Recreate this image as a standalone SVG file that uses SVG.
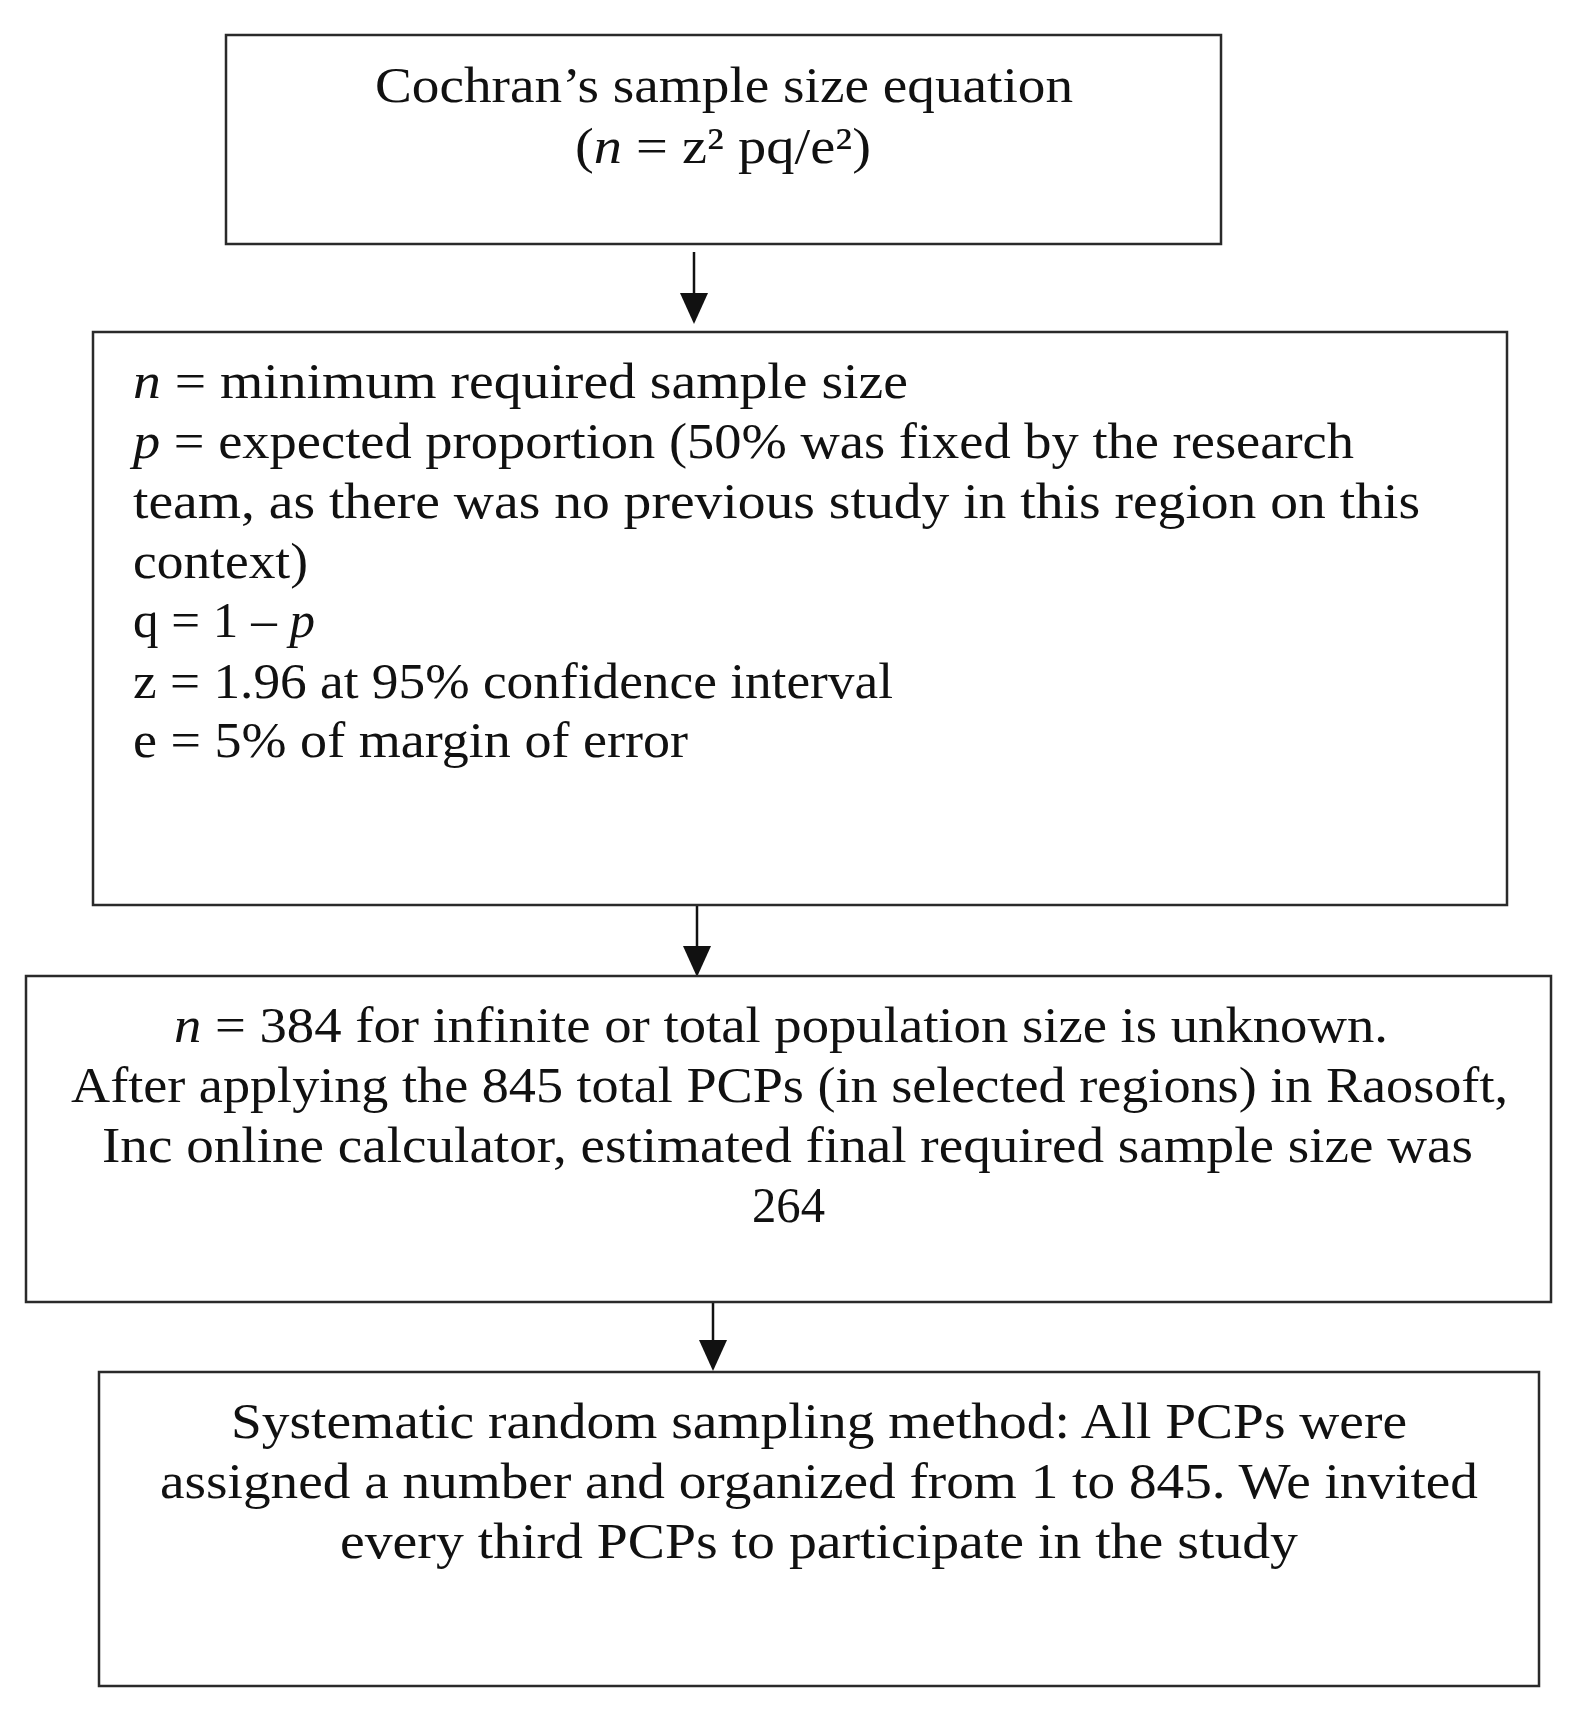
<svg xmlns="http://www.w3.org/2000/svg" width="1573" height="1713" viewBox="0 0 1573 1713">
<style>
.box{fill:#fff;stroke:#2a2a2a;stroke-width:2.5}
.t{font-family:"Liberation Serif","Times New Roman",serif;font-size:50px;fill:#111}
.i{font-style:italic}
.conn{stroke:#111;stroke-width:2.5;fill:none}
</style>
<defs>
<marker id="ah" markerUnits="userSpaceOnUse" markerWidth="31" markerHeight="28" viewBox="0 0 31 28" refX="11" refY="14" orient="auto">
<path d="M0,0 L31,14 L0,28 Z" fill="#111"/>
</marker>
</defs>
<rect width="1573" height="1713" fill="#fff"/>
<g id="connectors">
<path class="conn" d="M694,252 L694,304" marker-end="url(#ah)"/>
<path class="conn" d="M697,905 L697,957" marker-end="url(#ah)"/>
<path class="conn" d="M713,1296 L713,1351" marker-end="url(#ah)"/>
</g>
<g id="node1">
<rect class="box" x="226" y="35" width="995" height="209"/>
<text class="t" x="375" y="102" textLength="698" lengthAdjust="spacingAndGlyphs">Cochran’s sample size equation</text>
<text class="t" x="575" y="163" textLength="296" lengthAdjust="spacingAndGlyphs">(<tspan class="i">n</tspan> = z² pq/e²)</text>
</g>
<g id="node2">
<rect class="box" x="93" y="332" width="1414" height="573"/>
<text class="t" x="133" y="398" textLength="775" lengthAdjust="spacingAndGlyphs"><tspan class="i">n</tspan> = minimum required sample size</text>
<text class="t" x="133" y="458" textLength="1221" lengthAdjust="spacingAndGlyphs"><tspan class="i">p</tspan> = expected proportion (50% was fixed by the research</text>
<text class="t" x="133" y="518" textLength="1287" lengthAdjust="spacingAndGlyphs">team, as there was no previous study in this region on this</text>
<text class="t" x="133" y="578" textLength="175" lengthAdjust="spacingAndGlyphs">context)</text>
<text class="t" x="133" y="637" textLength="182" lengthAdjust="spacingAndGlyphs">q = 1 – <tspan class="i">p</tspan></text>
<text class="t" x="133" y="698" textLength="760" lengthAdjust="spacingAndGlyphs">z = 1.96 at 95% confidence interval</text>
<text class="t" x="133" y="757" textLength="555" lengthAdjust="spacingAndGlyphs">e = 5% of margin of error</text>
</g>
<g id="node3">
<rect class="box" x="26" y="976" width="1525" height="326"/>
<text class="t" x="174" y="1042" textLength="1214" lengthAdjust="spacingAndGlyphs"><tspan class="i">n</tspan> = 384 for infinite or total population size is unknown.</text>
<text class="t" x="71" y="1102" textLength="1437" lengthAdjust="spacingAndGlyphs">After applying the 845 total PCPs (in selected regions) in Raosoft,</text>
<text class="t" x="102" y="1162" textLength="1371" lengthAdjust="spacingAndGlyphs">Inc online calculator, estimated final required sample size was</text>
<text class="t" x="752" y="1222" textLength="73" lengthAdjust="spacingAndGlyphs">264</text>
</g>
<g id="node4">
<rect class="box" x="99" y="1372" width="1440" height="314"/>
<text class="t" x="231" y="1438" textLength="1176" lengthAdjust="spacingAndGlyphs">Systematic random sampling method: All PCPs were</text>
<text class="t" x="160" y="1498" textLength="1318" lengthAdjust="spacingAndGlyphs">assigned a number and organized from 1 to 845. We invited</text>
<text class="t" x="340" y="1558" textLength="958" lengthAdjust="spacingAndGlyphs">every third PCPs to participate in the study</text>
</g>
</svg>
